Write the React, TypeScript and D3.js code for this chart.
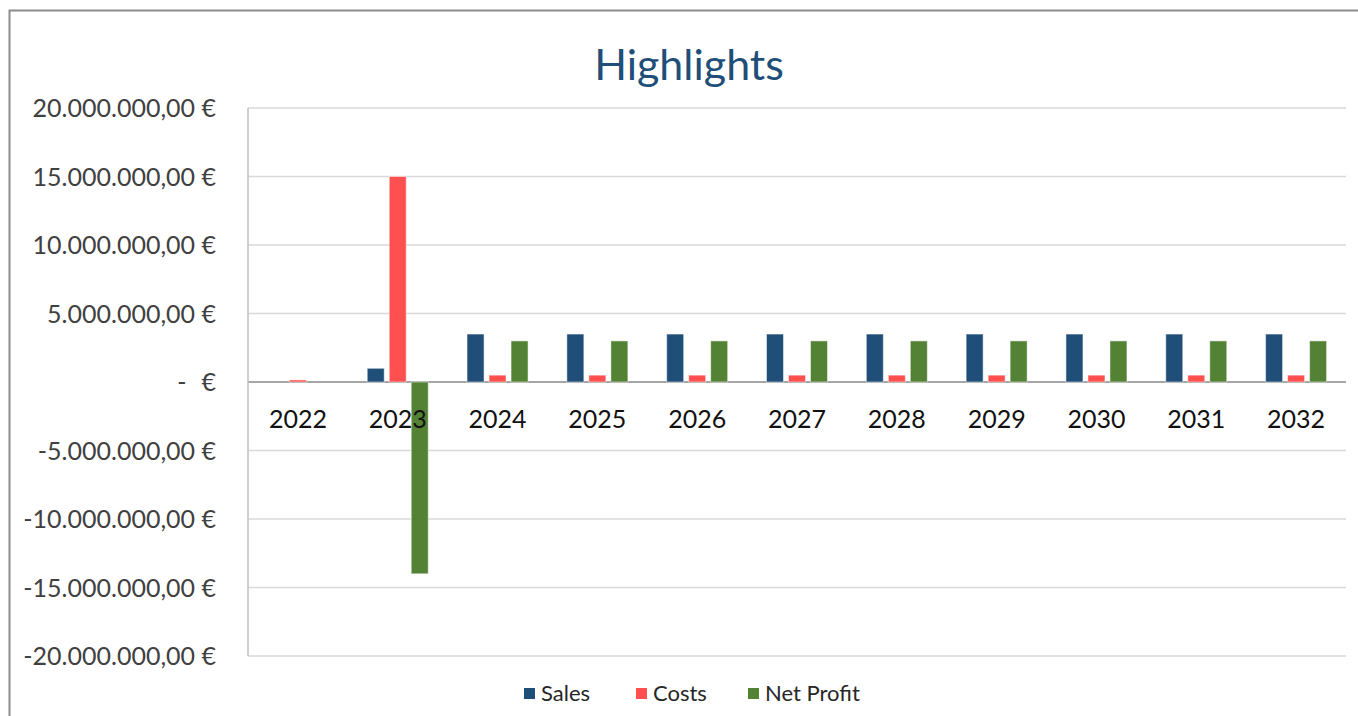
import React from "react";
import * as d3 from "d3";

const categories = ["2022", "2023", "2024", "2025", "2026", "2027", "2028", "2029", "2030", "2031", "2032"];
const sales = [0, 1000000, 3500000, 3500000, 3500000, 3500000, 3500000, 3500000, 3500000, 3500000, 3500000];
const costs = [150000, 15000000, 500000, 500000, 500000, 500000, 500000, 500000, 500000, 500000, 500000];
const netProfit = [0, -14000000, 3000000, 3000000, 3000000, 3000000, 3000000, 3000000, 3000000, 3000000, 3000000];
const yTicks = [20000000, 15000000, 10000000, 5000000, 0, -5000000, -10000000, -15000000, -20000000];
const seriesNames = ["Sales", "Costs", "Net Profit"];
const seriesColors = ["#1F4E79", "#FF5050", "#548235"];

const W = 1358;
const H = 716;
const FONT = "Lato, 'Noto Sans', sans-serif";

function fmt(v: number): string {
  const abs = Math.abs(v);
  const s = d3.format(",.2f")(abs).replace(/,/g, "X").replace(/\./g, ",").replace(/X/g, ".");
  return (v < 0 ? "-" : "") + s + " €";
}

export default function App() {
  const left = 248, right = 1346, top = 108, bottom = 656;
  const x = d3.scaleBand<string>().domain(categories).range([left, right]);
  const y = d3.scaleLinear().domain([-20000000, 20000000]).range([bottom, top]);
  const series = [sales, costs, netProfit];
  const barW = 17;
  const offs = [-22, 0, 22];

  return (
    <svg width={W} height={H} style={{ position: "absolute", left: 0, top: 0, background: "#fff" }} fontFamily={FONT}>
      <rect x={0} y={0} width={W} height={H} fill="#fff" />
      <path d={`M9.5,${H} V10.5 H${W}`} fill="none" stroke="#8C8C8C" strokeWidth={2} />
      <text x={689} y={80} textAnchor="middle" fontSize={43} fill="#1F4E79">Highlights</text>
      {yTicks.map((t) => (
        <line key={"g" + t} x1={left} x2={right} y1={y(t)} y2={y(t)} stroke={t === 0 ? "#A6A6A6" : "#D9D9D9"} strokeWidth={t === 0 ? 2 : 1.5} />
      ))}
      <line x1={left} x2={left} y1={top} y2={bottom} stroke="#BFBFBF" strokeWidth={1.5} />
      {yTicks.map((t) =>
        t === 0 ? (
          <g key={"l" + t}>
            <text x={182} y={y(t) + 9} textAnchor="middle" fontSize={25} fill="#404040">-</text>
            <text x={216} y={y(t) + 9} textAnchor="end" fontSize={25} fill="#404040">€</text>
          </g>
        ) : (
          <text key={"l" + t} x={216} y={y(t) + 9} textAnchor="end" fontSize={25} fill="#404040">{fmt(t)}</text>
        )
      )}
      {series.map((vals, si) =>
        vals.map((v, i) => {
          const cx = (x(categories[i]) as number) + x.bandwidth() / 2 + offs[si];
          const y0 = y(0), y1 = y(v);
          const h = Math.abs(y1 - y0);
          if (h < 0.01) return null;
          return (
            <rect key={si + "-" + i} x={cx - barW / 2} y={Math.min(y0, y1)} width={barW} height={h}
              fill={seriesColors[si]} stroke="#ffffff" strokeOpacity={0.5} strokeWidth={1} />
          );
        })
      )}
      {categories.map((c) => (
        <text key={"c" + c} x={(x(c) as number) + x.bandwidth() / 2} y={428} textAnchor="middle" fontSize={25} fill="#111">{c}</text>
      ))}
      {[{ n: seriesNames[0], sx: 524, tx: 541 }, { n: seriesNames[1], sx: 636, tx: 653 }, { n: seriesNames[2], sx: 748, tx: 765 }].map((l, i) => (
        <g key={"lg" + i}>
          <rect x={l.sx} y={688} width={11} height={11} fill={seriesColors[i]} />
          <text x={l.tx} y={701} fontSize={22} fill="#262626">{l.n}</text>
        </g>
      ))}
    </svg>
  );
}
